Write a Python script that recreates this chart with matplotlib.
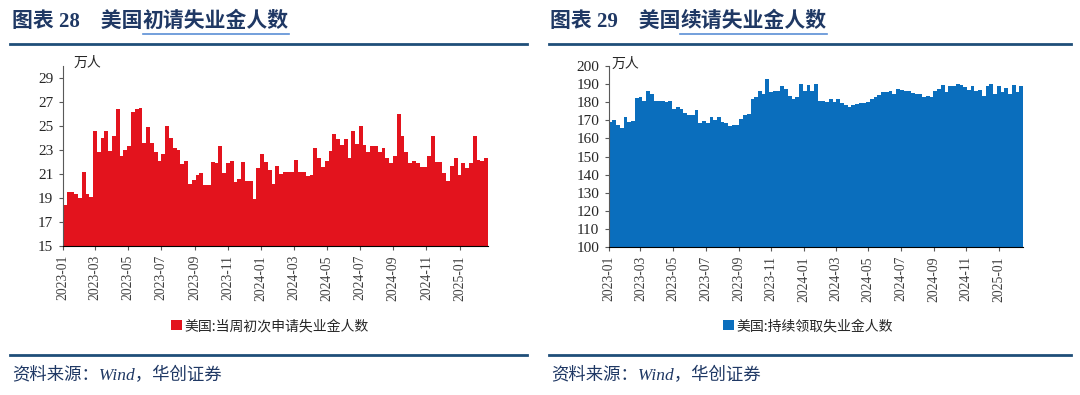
import numpy as np
import matplotlib
matplotlib.use('Agg')
import matplotlib.pyplot as plt
import matplotlib.dates as mdates
from matplotlib.patches import Patch
from matplotlib.lines import Line2D

# weekly data, 万人
init_claims = [18.4, 19.5, 19.5, 19.3, 19.0, 21.2, 19.3, 19.1, 24.6, 22.8, 24.0, 24.6, 22.9, 24.2,
               26.4, 22.5, 23.0, 23.3, 26.2, 26.4, 26.5, 23.6, 24.9, 23.6, 22.8, 22.1, 22.7, 25.0,
               24.0, 23.2, 23.0, 21.8, 22.1, 20.2, 20.5, 20.9, 21.1, 20.1, 20.1, 22.0, 21.9, 23.3,
               21.1, 21.9, 22.1, 20.3, 20.6, 22.0, 20.4, 20.4, 18.9, 21.5, 22.7, 22.0, 21.3, 20.2,
               21.7, 21.0, 21.2, 21.2, 21.2, 22.2, 21.2, 21.2, 20.8, 20.9, 23.2, 22.3, 21.6, 22.1,
               22.9, 24.3, 23.9, 23.4, 23.9, 22.3, 24.6, 23.5, 25.0, 23.4, 22.8, 23.3, 23.3, 22.8,
               23.2, 22.3, 21.9, 22.5, 26.0, 24.2, 22.8, 21.9, 22.1, 21.9, 21.6, 21.6, 22.5, 24.2,
               22.0, 22.0, 21.1, 20.4, 21.7, 22.3, 20.9, 21.9, 21.5, 21.9, 24.2, 22.2, 22.1, 22.3]
cont_claims = [169.1, 170.0, 167.3, 165.8, 171.8, 169.1, 169.5, 182.2, 182.7, 180.4, 186.0, 184.5,
               180.5, 180.9, 180.4, 180.0, 180.4, 176.0, 177.3, 176.0, 174.0, 172.7, 172.7, 175.5,
               168.5, 169.6, 168.7, 171.8, 170.4, 171.8, 169.1, 168.7, 166.7, 167.3, 167.6, 170.9,
               173.1, 173.5, 181.5, 182.7, 186.4, 184.5, 192.7, 185.5, 186.4, 186.0, 188.7, 187.3,
               183.6, 181.5, 183.1, 190.0, 186.4, 189.5, 186.4, 190.0,
               180.5, 180.5, 180.0, 181.5, 180.0, 181.5, 179.6, 178.2, 177.6, 178.5, 179.1, 179.5,
               179.5, 180.0, 181.8, 182.7, 184.0, 185.5, 185.5, 186.4, 184.5, 187.3, 186.9, 186.0,
               186.4, 185.1, 184.5, 184.5, 183.1, 183.3, 182.7, 186.4, 187.3, 189.5, 185.5, 189.1,
               189.1, 190.0, 189.5, 188.2, 186.9, 189.1, 186.4, 186.9, 183.6, 189.1, 190.0, 184.5,
               188.7, 185.5, 187.6, 184.5, 189.5, 185.8, 189.1]

init_dates = np.arange(np.datetime64('2023-01-07'), np.datetime64('2023-01-07') + 7 * len(init_claims), 7)
cont_dates = np.arange(np.datetime64('2023-01-07'), np.datetime64('2023-01-07') + 7 * len(cont_claims), 7)

CJK = ['Noto Sans CJK SC', 'DejaVu Sans']
SERIF = ['Liberation Serif', 'Noto Sans CJK SC']
NAVY = '#1F3864'

fig = plt.figure(figsize=(10.8, 3.95), dpi=100)
W, H = 1080, 395


def fx(px):
    return px / W


def fy(py):
    return 1 - py / H


def panel(rect, dates, vals, color, ylim, yticks, legend_label, legend_xy):
    ax = fig.add_axes(rect)
    x = mdates.date2num(dates.astype('datetime64[D]').astype(object))
    ax.bar(x - 3, vals, width=7, color=color, linewidth=0)
    ax.set_ylim(*ylim)
    ax.set_yticks(yticks)
    ax.set_xlim(mdates.date2num(np.datetime64('2023-01-01').astype(object)), x[-1] + 0.5)
    ax.xaxis.set_major_locator(mdates.MonthLocator(bymonth=[1, 3, 5, 7, 9, 11]))
    ax.xaxis.set_major_formatter(mdates.DateFormatter('%Y-%m'))
    for s in ['top', 'right']:
        ax.spines[s].set_visible(False)
    ax.spines['left'].set_color('#595959')
    ax.spines['bottom'].set_color('#000000')
    ax.tick_params(axis='both', length=3, width=0.8, color='#595959')
    ax.tick_params(axis='y', pad=4)
    for lab in ax.get_xticklabels():
        lab.set_rotation(90)
        lab.set_fontfamily(SERIF)
        lab.set_fontsize(9.8)
        lab.set_color('#404040')
    for lab in ax.get_yticklabels():
        lab.set_fontfamily(SERIF)
        lab.set_fontsize(11)
        lab.set_color('#262626')
    ax.legend(handles=[Patch(facecolor=color, edgecolor='none', label=legend_label)],
              loc='center', bbox_to_anchor=legend_xy, bbox_transform=fig.transFigure,
              frameon=False, handlelength=0.75, handleheight=0.75, handletextpad=0.2,
              prop={'family': CJK, 'size': 10}, labelcolor='#262626')
    return ax


ax1 = panel([fx(63), fy(246), fx(488) - fx(63), fy(66) - fy(246)],
            init_dates, init_claims, '#E3131D', (15, 30), np.arange(15, 30, 2),
            '美国:当周初次申请失业金人数', (fx(270), fy(326)))
ax2 = panel([fx(609), fy(247), fx(1023) - fx(609), fy(66) - fy(247)],
            cont_dates, cont_claims, '#0A6EBD', (100, 200), np.arange(100, 201, 10),
            '美国:持续领取失业金人数', (fx(808), fy(326)))

fig.text(fx(74), fy(63), '万人', family=CJK, fontsize=10, color='#262626', va='center')
fig.text(fx(612), fy(64), '万人', family=CJK, fontsize=10, color='#262626', va='center')

renderer = fig.canvas.get_renderer()


def title(x0, prefix, linked):
    t1 = fig.text(fx(x0), fy(22), prefix, family=SERIF, fontsize=15, weight='bold',
                  color=NAVY, va='center')
    b1 = t1.get_window_extent(renderer)
    t2 = fig.text(b1.x1 / W, fy(22), linked, family=SERIF, fontsize=15, weight='bold',
                  color=NAVY, va='center')
    b2 = t2.get_window_extent(renderer)
    fig.add_artist(Line2D([b2.x0 / W, b2.x1 / W], [fy(33.5), fy(33.5)], color='#5B8FD6', lw=1.2))


title(12, '图表 28　美国', '初请失业金人数')
title(550, '图表 29　美国', '续请失业金人数')

for x0, x1 in [(10, 527), (549, 1071)]:
    fig.add_artist(Line2D([fx(x0), fx(x1)], [fy(44), fy(44)], color='#1F4E79', lw=2))
    fig.add_artist(Line2D([fx(x0), fx(x1)], [fy(355), fy(355)], color='#1F4E79', lw=2))
    fig.text(fx(x0 + 2), fy(376), '资料来源：Wind，华创证券', family=SERIF, style='italic',
             fontsize=12.5, color=NAVY, va='center')

fig.savefig('out.png', dpi=100)
